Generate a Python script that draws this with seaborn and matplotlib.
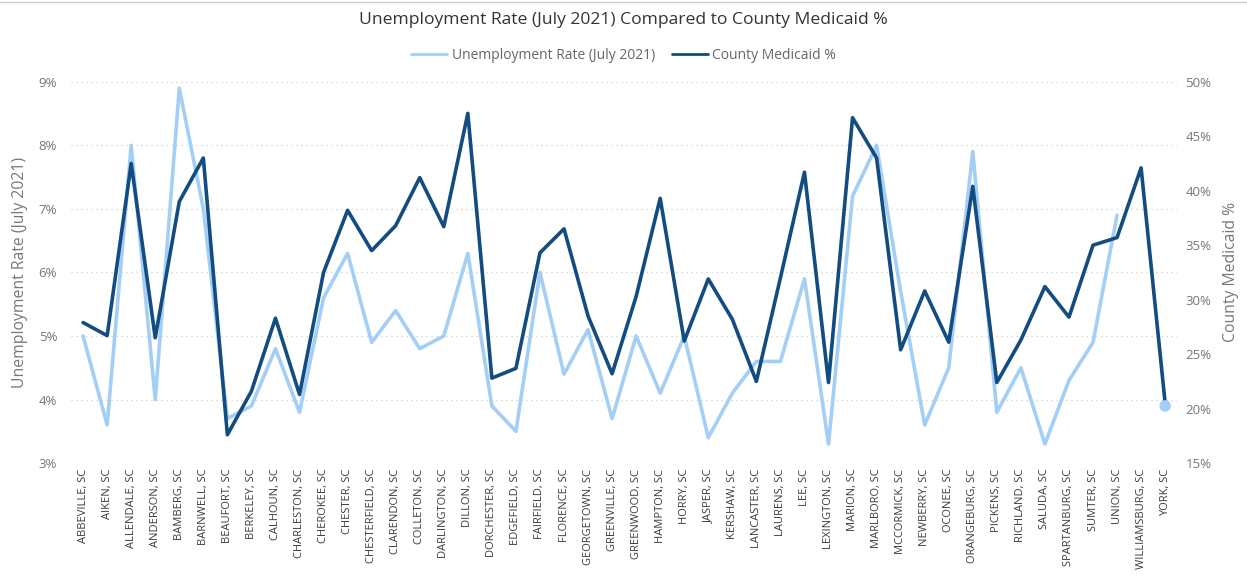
import numpy as np
import pandas as pd
import matplotlib
matplotlib.use("Agg")
import matplotlib.pyplot as plt
from matplotlib.lines import Line2D
from matplotlib.ticker import FuncFormatter, MultipleLocator
import seaborn as sns

counties = ["ABBEVILLE, SC", "AIKEN, SC", "ALLENDALE, SC", "ANDERSON, SC", "BAMBERG, SC",
            "BARNWELL, SC", "BEAUFORT, SC", "BERKELEY, SC", "CALHOUN, SC", "CHARLESTON, SC",
            "CHEROKEE, SC", "CHESTER, SC", "CHESTERFIELD, SC", "CLARENDON, SC", "COLLETON, SC",
            "DARLINGTON, SC", "DILLON, SC", "DORCHESTER, SC", "EDGEFIELD, SC", "FAIRFIELD, SC",
            "FLORENCE, SC", "GEORGETOWN, SC", "GREENVILLE, SC", "GREENWOOD, SC", "HAMPTON, SC",
            "HORRY, SC", "JASPER, SC", "KERSHAW, SC", "LANCASTER, SC", "LAURENS, SC",
            "LEE, SC", "LEXINGTON, SC", "MARION, SC", "MARLBORO, SC", "MCCORMICK, SC",
            "NEWBERRY, SC", "OCONEE, SC", "ORANGEBURG, SC", "PICKENS, SC", "RICHLAND, SC",
            "SALUDA, SC", "SPARTANBURG, SC", "SUMTER, SC", "UNION, SC", "WILLIAMSBURG, SC",
            "YORK, SC"]

unemployment = [5.0, 3.6, 8.0, 4.0, 8.9, 7.0, 3.7, 3.9, 4.8, 3.8,
                5.6, 6.3, 4.9, 5.4, 4.8, 5.0, 6.3, 3.9, 3.5, 6.0,
                4.4, 5.1, 3.7, 5.0, 4.1, 5.0, 3.4, 4.1, 4.6, 4.6,
                5.9, 3.3, 7.2, 8.0, 5.7, 3.6, 4.5, 7.9, 3.8, 4.5,
                3.3, 4.3, 4.9, 6.9, np.nan, 3.9]

medicaid = [27.9, 26.7, 42.5, 26.5, 39.0, 43.0, 17.6, 21.6, 28.3, 21.3,
            32.5, 38.2, 34.5, 36.8, 41.2, 36.7, 47.1, 22.8, 23.7, 34.3,
            36.5, 28.5, 23.2, 30.3, 39.3, 26.2, 31.9, 28.2, 22.5, 32.0,
            41.7, 22.4, 46.7, 43.0, 25.4, 30.8, 26.1, 40.4, 22.4, 26.3,
            31.2, 28.4, 35.0, 35.7, 42.1, 20.5]

LIGHT = "#A3CEF6"
DARK = "#124C80"

df = pd.DataFrame({"county": counties,
                   "pos": np.arange(len(counties)),
                   "unemp": unemployment,
                   "medicaid": medicaid})
# contiguous segments of the unemployment series (break at missing values)
df["seg"] = df["unemp"].isna().cumsum()
u = df.dropna(subset=["unemp"]).copy()
seg_len = u.groupby("seg")["pos"].transform("size")
isolated = u[seg_len == 1]

sns.set_theme(style="white")
plt.rcParams["font.family"] = ["Open Sans", "DejaVu Sans"]

fig = plt.figure(figsize=(12.47, 5.84), dpi=100)
ax = fig.add_axes([0.057, 0.207, 0.887, 0.653])
ax2 = ax.twinx()

sns.lineplot(data=u, x="pos", y="unemp", units="seg", estimator=None,
             color=LIGHT, linewidth=2.6, ax=ax, legend=False)
sns.lineplot(data=df, x="pos", y="medicaid", color=DARK, linewidth=2.6,
             ax=ax2, legend=False)

ax.set_xlim(-0.5, len(counties) - 0.5)
ax.set_ylim(3, 9)
ax2.set_ylim(15, 50)

# isolated unemployment points drawn on top of everything (left-axis coordinates)
sns.scatterplot(data=isolated, x="pos", y="unemp", color=LIGHT, s=70,
                edgecolor="none", ax=ax2, legend=False, zorder=6,
                transform=ax.transData)
ax2.set_ylim(15, 50)
ax.set_xlim(-0.5, len(counties) - 0.5)

ax.yaxis.set_major_locator(MultipleLocator(1))
ax2.yaxis.set_major_locator(MultipleLocator(5))
ax.yaxis.set_major_formatter(FuncFormatter(lambda v, p: f"{v:.0f}%"))
ax2.yaxis.set_major_formatter(FuncFormatter(lambda v, p: f"{v:.0f}%"))

ax.set_xticks(df["pos"])
ax.set_xticklabels(counties, rotation=90, fontsize=8, color="#3A3A3A")
ax.set_xlabel("")
ax2.set_xlabel("")

for a in (ax, ax2):
    for s in a.spines.values():
        s.set_visible(False)
    a.tick_params(axis="both", length=0)
ax.tick_params(axis="y", labelsize=9.5, labelcolor="#777777", pad=10)
ax2.tick_params(axis="y", labelsize=9.5, labelcolor="#777777", pad=6)
ax.tick_params(axis="x", pad=4)

ax.grid(axis="y", color="#CDCDCD", linestyle=(0, (1, 3)), linewidth=0.9)
ax.set_axisbelow(True)

ax.set_ylabel("Unemployment Rate (July 2021)", fontsize=11.3, color="#777777", labelpad=8)
ax2.set_ylabel("County Medicaid %", fontsize=11.3, color="#777777", labelpad=8)

fig.text(0.5, 0.965, "Unemployment Rate (July 2021) Compared to County Medicaid %",
         ha="center", va="center", fontsize=12.6, color="#333333")

handles = [Line2D([0], [0], color=LIGHT, lw=2),
           Line2D([0], [0], color=DARK, lw=2)]
fig.legend(handles, ["Unemployment Rate (July 2021)", "County Medicaid %"],
           loc="center", bbox_to_anchor=(0.5, 0.905), ncol=2, frameon=False,
           fontsize=10, handlelength=2.6, handletextpad=0.3, columnspacing=1.2,
           labelcolor="#666666")

fig.add_artist(plt.Line2D([0, 1], [0.997, 0.997], color="#CFCFCF", lw=1,
                          transform=fig.transFigure))

fig.savefig("out.png", dpi=100)
